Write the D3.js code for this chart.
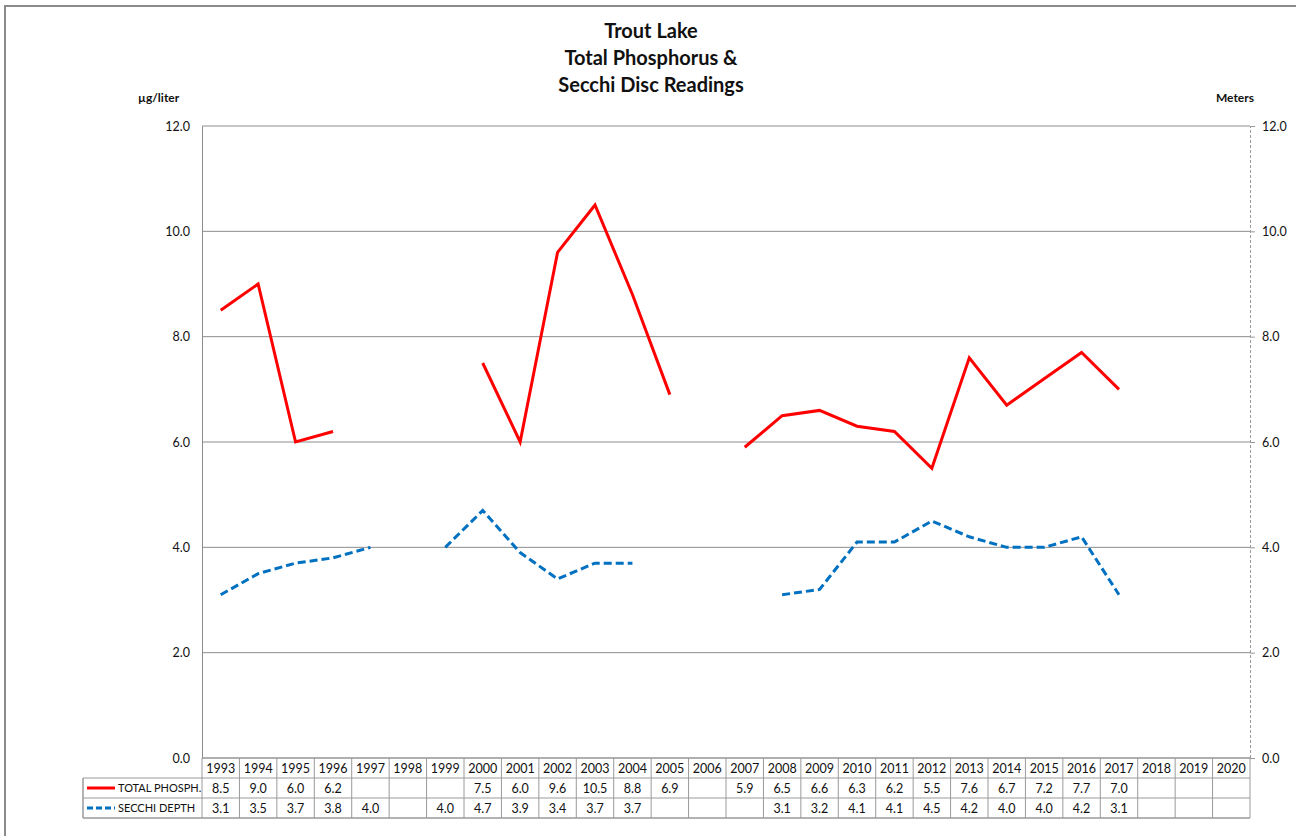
<!DOCTYPE html>
<html>
<head>
<meta charset="utf-8">
<script src="https://cdn.jsdelivr.net/npm/d3@7"></script>
<style>
  body { margin: 0; background: #fff; }
  text { font-family: Lato, "Open Sans", sans-serif; fill: #111; }
</style>
</head>
<body>
<div id="chart"></div>
<script>
var years = ["1993","1994","1995","1996","1997","1998","1999","2000","2001","2002","2003","2004","2005","2006",
             "2007","2008","2009","2010","2011","2012","2013","2014","2015","2016","2017","2018","2019","2020"];
var phosphorus = [8.5, 9.0, 6.0, 6.2, null, null, null, 7.5, 6.0, 9.6, 10.5, 8.8, 6.9, null,
                  5.9, 6.5, 6.6, 6.3, 6.2, 5.5, 7.6, 6.7, 7.2, 7.7, 7.0, null, null, null];
var secchi = [3.1, 3.5, 3.7, 3.8, 4.0, null, 4.0, 4.7, 3.9, 3.4, 3.7, 3.7, null, null,
              null, 3.1, 3.2, 4.1, 4.1, 4.5, 4.2, 4.0, 4.0, 4.2, 3.1, null, null, null];
var yTicks = [0, 2, 4, 6, 8, 10, 12];
var titleLines = ["Trout Lake", "Total Phosphorus &", "Secchi Disc Readings"];

function drawChart() {
  var width = 1296, height = 836;
  var plotLeft = 202, plotRight = 1250, plotTop = 126, plotBottom = 758;
  var rowH = 20;

  var svg = d3.select("#chart").append("svg")
      .attr("width", width)
      .attr("height", height);

  // outer chart border
  svg.append("rect")
      .attr("x", 5).attr("y", 6)
      .attr("width", 1400).attr("height", 1000)
      .attr("fill", "none")
      .attr("stroke", "#8a8a8a")
      .attr("stroke-width", 2);

  var x = d3.scaleBand().domain(years).range([plotLeft, plotRight]);
  var y = d3.scaleLinear().domain([0, 12]).range([plotBottom, plotTop]);

  // gridlines
  svg.append("g").selectAll("line")
      .data(yTicks)
      .enter().append("line")
      .attr("x1", plotLeft).attr("x2", plotRight)
      .attr("y1", function(d) { return y(d); })
      .attr("y2", function(d) { return y(d); })
      .attr("stroke", "#8c8c8c")
      .attr("stroke-width", 1);

  // left axis
  var leftAxis = svg.append("g")
      .attr("transform", "translate(" + plotLeft + ",0)")
      .call(d3.axisLeft(y).tickValues(yTicks).tickFormat(d3.format(".1f")).tickSize(0).tickPadding(12));
  leftAxis.select(".domain").attr("stroke", "#8c8c8c");
  leftAxis.selectAll("text").style("font-size", "12.5px").style("font-family", "Lato, sans-serif").attr("fill", "#111");

  // right axis (dashed)
  var rightAxis = svg.append("g")
      .attr("transform", "translate(" + plotRight + ",0)")
      .call(d3.axisRight(y).tickValues(yTicks).tickFormat(d3.format(".1f")).tickSize(5).tickPadding(7));
  rightAxis.select(".domain").attr("stroke", "#9a9a9a").attr("stroke-dasharray", "3,2");
  rightAxis.selectAll(".tick line").attr("stroke", "#9a9a9a");
  rightAxis.selectAll("text").style("font-size", "12.5px").style("font-family", "Lato, sans-serif").attr("fill", "#111");

  // titles
  svg.append("g").selectAll("text")
      .data(titleLines)
      .enter().append("text")
      .attr("x", 651)
      .attr("y", function(d, i) { return 38 + i * 27; })
      .attr("text-anchor", "middle")
      .style("font-size", "20px")
      .style("font-weight", "bold")
      .text(function(d) { return d; });

  svg.append("text").attr("x", 138).attr("y", 102)
      .style("font-size", "12px").style("font-weight", "bold").text("µg/liter");
  svg.append("text").attr("x", 1254).attr("y", 102).attr("text-anchor", "end")
      .style("font-size", "12px").style("font-weight", "bold").text("Meters");

  // lines
  var line = d3.line()
      .defined(function(d) { return d != null; })
      .x(function(d, i) { return x(years[i]) + x.bandwidth() / 2; })
      .y(function(d) { return y(d); });

  svg.append("path")
      .datum(phosphorus)
      .attr("d", line)
      .attr("fill", "none")
      .attr("stroke", "#ff0000")
      .attr("stroke-width", 3);

  svg.append("path")
      .datum(secchi)
      .attr("d", line)
      .attr("fill", "none")
      .attr("stroke", "#0070c0")
      .attr("stroke-width", 3)
      .attr("stroke-dasharray", "8,4");

  // data table
  var legendLeft = 83;
  var table = svg.append("g");
  var gridColor = "#9a9a9a";

  table.append("line").attr("x1", plotLeft).attr("x2", plotRight)
      .attr("y1", plotBottom).attr("y2", plotBottom).attr("stroke", gridColor);
  [1, 2, 3].forEach(function(r) {
    table.append("line")
      .attr("x1", legendLeft).attr("x2", plotRight)
      .attr("y1", plotBottom + r * rowH).attr("y2", plotBottom + r * rowH)
      .attr("stroke", gridColor).attr("stroke-width", r == 3 ? 1.5 : 1);
  });
  table.selectAll("line.col")
      .data(years.concat(["end"]))
      .enter().append("line")
      .attr("class", "col")
      .attr("x1", function(d, i) { return plotLeft + i * x.bandwidth(); })
      .attr("x2", function(d, i) { return plotLeft + i * x.bandwidth(); })
      .attr("y1", plotBottom)
      .attr("y2", plotBottom + 3 * rowH)
      .attr("stroke", gridColor);
  table.append("line").attr("x1", legendLeft).attr("x2", legendLeft)
      .attr("y1", plotBottom + rowH).attr("y2", plotBottom + 3 * rowH)
      .attr("stroke", gridColor).attr("stroke-width", 1.5);

  table.selectAll("text.year")
      .data(years)
      .enter().append("text")
      .attr("class", "year")
      .attr("x", function(d) { return x(d) + x.bandwidth() / 2; })
      .attr("y", plotBottom + 15)
      .attr("text-anchor", "middle")
      .style("font-size", "12.5px")
      .text(function(d) { return d; });

  function valueRow(data, row) {
    table.selectAll("text.r" + row)
      .data(data)
      .enter().append("text")
      .attr("class", "r" + row)
      .attr("x", function(d, i) { return x(years[i]) + x.bandwidth() / 2; })
      .attr("y", plotBottom + row * rowH + 15)
      .attr("text-anchor", "middle")
      .style("font-size", "12.5px")
      .text(function(d) { return d == null ? "" : d.toFixed(1); });
  }
  valueRow(phosphorus, 1);
  valueRow(secchi, 2);

  // legend keys in table
  table.append("line").attr("x1", 87).attr("x2", 115)
      .attr("y1", plotBottom + rowH + 10).attr("y2", plotBottom + rowH + 10)
      .attr("stroke", "#ff0000").attr("stroke-width", 3);
  table.append("text").attr("x", 118).attr("y", plotBottom + rowH + 14)
      .style("font-size", "11px").text("TOTAL PHOSPH.");
  table.append("line").attr("x1", 87).attr("x2", 115)
      .attr("y1", plotBottom + 2 * rowH + 10).attr("y2", plotBottom + 2 * rowH + 10)
      .attr("stroke", "#0070c0").attr("stroke-width", 3).attr("stroke-dasharray", "6,3");
  table.append("text").attr("x", 118).attr("y", plotBottom + 2 * rowH + 14)
      .style("font-size", "11px").text("SECCHI DEPTH");
}
drawChart();
</script>
</body>
</html>
